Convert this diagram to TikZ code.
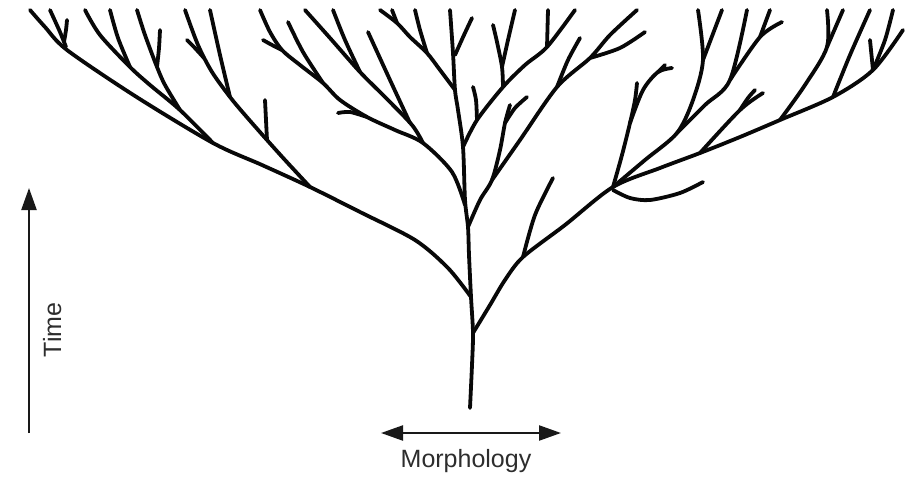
\documentclass[tikz,border=0pt]{standalone}
\usepackage{fontspec}
\setsansfont{Liberation Sans}
\usepackage{tikz}
\usetikzlibrary{arrows.meta}
\definecolor{bark}{RGB}{8,8,8}
\definecolor{axisInk}{RGB}{25,25,25}
\definecolor{labInk}{RGB}{45,45,45}

\begin{document}
\begin{tikzpicture}[
  x=1pt, y=-1pt,
  font=\sffamily,
  >={Triangle[length=22pt, width=15pt]},
  limb/.style={draw=bark, line width=3.8pt, line cap=round, line join=round},
  axis/.style={draw=axisInk, line width=2.3pt},
  lab/.style={text=labInk, inner sep=0pt, font=\sffamily\fontsize{25}{30}\selectfont},
]
\useasboundingbox (0,0) rectangle (906,479);

% ---- trunk ----
\draw[limb] plot[smooth, tension=0.5] coordinates {(470,408) (472,365) (473,333) (471,297) (469,255) (468,227) (465,200) (463,147) (458,110) (455,90) (453,53) (450,10)};
\draw[limb] plot[smooth, tension=0.5] coordinates {(455,55) (464,35) (472,18)};

% ---- left main limb ----
\draw[limb] plot[smooth, tension=0.5] coordinates {(471,297) (448,268) (415,240) (360,212) (310,187) (262,165) (213,143) (135,96) (67,50) (45,27) (30,10)};
\draw[limb] plot[smooth, tension=0.5] coordinates {(66,47) (60,32) (50,10)};
\draw[limb] plot[smooth, tension=0.5] coordinates {(64,42) (66,30) (67,20)};
% group 2
\draw[limb] plot[smooth, tension=0.5] coordinates {(213,143) (180,110) (150,85) (130,67) (100,35) (85,10)};
\draw[limb] plot[smooth, tension=0.5] coordinates {(130,67) (118,38) (110,10)};
\draw[limb] plot[smooth, tension=0.5] coordinates {(180,110) (165,85) (157,67) (145,35) (137,10)};
\draw[limb] plot[smooth, tension=0.5] coordinates {(157,67) (159,48) (160,30)};
% group 3
\draw[limb] plot[smooth, tension=0.5] coordinates {(310,187) (285,160) (267,140) (245,115) (230,97) (212,72) (198,45) (185,10)};
\draw[limb] plot[smooth, tension=0.5] coordinates {(230,97) (220,55) (210,10)};
\draw[limb] plot[smooth, tension=0.5] coordinates {(204,58) (194,47) (187,40)};
\draw[limb] plot[smooth, tension=0.5] coordinates {(267,140) (266,120) (265,100)};

% ---- upper left limb ----
\draw[limb] plot[smooth, tension=0.5] coordinates {(465,205) (452,172) (423,143) (395,130) (367,117) (340,100) (323,83) (300,65) (282,50) (270,32) (260,10)};
\draw[limb] plot[smooth, tension=0.5] coordinates {(282,50) (272,45) (263,40)};
\draw[limb] plot[smooth, tension=0.5] coordinates {(323,83) (303,52) (288,22)};
\draw[limb] plot[smooth, tension=0.5] coordinates {(423,143) (412,125) (385,97) (360,72) (330,38) (305,10)};
\draw[limb] plot[smooth, tension=0.5] coordinates {(360,72) (345,40) (333,10)};
\draw[limb] plot[smooth, tension=0.5] coordinates {(410,123) (390,80) (368,32)};
\draw[limb] plot[smooth, tension=0.5] coordinates {(367,117) (350,112) (338,113)};
% near the top of the trunk
\draw[limb] plot[smooth, tension=0.5] coordinates {(455,90) (440,70) (427,53) (410,37) (397,23) (380,10)};
\draw[limb] plot[smooth, tension=0.5] coordinates {(397,23) (392,10)};
\draw[limb] plot[smooth, tension=0.5] coordinates {(427,53) (420,30) (415,10)};

% ---- upper right limbs ----
\draw[limb] plot[smooth, tension=0.5] coordinates {(463,147) (477,120) (503,87) (525,65) (547,47) (575,10)};
\draw[limb] plot[smooth, tension=0.5] coordinates {(477,120) (476,100) (473,87)};
\draw[limb] plot[smooth, tension=0.5] coordinates {(503,87) (502,67) (497,42) (493,25)};
\draw[limb] plot[smooth, tension=0.5] coordinates {(502,67) (508,40) (515,10)};
\draw[limb] plot[smooth, tension=0.5] coordinates {(547,47) (548,10)};
\draw[limb] plot[smooth, tension=0.5] coordinates {(468,227) (480,200) (492,180) (500,150) (505,123) (510,105)};
\draw[limb] plot[smooth, tension=0.5] coordinates {(505,123) (515,108) (527,97)};
\draw[limb] plot[smooth, tension=0.5] coordinates {(492,180) (520,140) (557,87) (590,58) (610,35) (637,10)};
\draw[limb] plot[smooth, tension=0.5] coordinates {(557,87) (568,60) (580,38)};
\draw[limb] plot[smooth, tension=0.5] coordinates {(590,58) (620,48) (645,32)};

% ---- right main limb ----
\draw[limb] plot[smooth, tension=0.5] coordinates {(473,333) (490,305) (505,280) (523,257) (565,225) (613,187) (660,168) (700,153) (740,137) (780,120) (833,97) (873,70) (903,30)};
\draw[limb] plot[smooth, tension=0.5] coordinates {(523,257) (535,215) (553,178)};
\draw[limb] plot[smooth, tension=0.5] coordinates {(613,190) (630,198) (650,200) (680,193) (703,182)};
\draw[limb] plot[smooth, tension=0.5] coordinates {(613,187) (622,155) (630,123) (635,100) (637,83)};
\draw[limb] plot[smooth, tension=0.5] coordinates {(630,123) (643,90) (658,72) (672,68)};
\draw[limb] plot[smooth, tension=0.5] coordinates {(658,72) (665,65)};
\draw[limb] plot[smooth, tension=0.5] coordinates {(613,187) (645,160) (677,133) (693,100) (703,60) (698,10)};
\draw[limb] plot[smooth, tension=0.5] coordinates {(703,60) (722,10)};
\draw[limb] plot[smooth, tension=0.5] coordinates {(677,133) (705,105) (730,80) (747,10)};
\draw[limb] plot[smooth, tension=0.5] coordinates {(730,80) (760,37) (782,22)};
\draw[limb] plot[smooth, tension=0.5] coordinates {(760,37) (770,10)};
\draw[limb] plot[smooth, tension=0.5] coordinates {(700,153) (740,110) (763,93)};
\draw[limb] plot[smooth, tension=0.5] coordinates {(740,110) (748,98) (755,90)};
\draw[limb] plot[smooth, tension=0.5] coordinates {(780,120) (805,85) (827,47) (827,10)};
\draw[limb] plot[smooth, tension=0.5] coordinates {(827,47) (843,10)};
\draw[limb] plot[smooth, tension=0.5] coordinates {(833,97) (850,55) (870,10)};
\draw[limb] plot[smooth, tension=0.5] coordinates {(873,70) (870,40)};
\draw[limb] plot[smooth, tension=0.5] coordinates {(873,70) (885,40) (893,10)};

% ---- axes ----
\coordinate (tLo) at (29,433);
\coordinate (tHi) at (29,188);
\draw[axis, ->] (tLo) -- (tHi);
\node[lab, rotate=90, anchor=base] (time) at (61,330) {Time};

\coordinate (mLo) at (381,433);
\coordinate (mHi) at (561,433);
\draw[axis, <->] (mLo) -- (mHi);
\node[lab, anchor=base] (morph) at (466,467) {Morphology};

\end{tikzpicture}
\end{document}
